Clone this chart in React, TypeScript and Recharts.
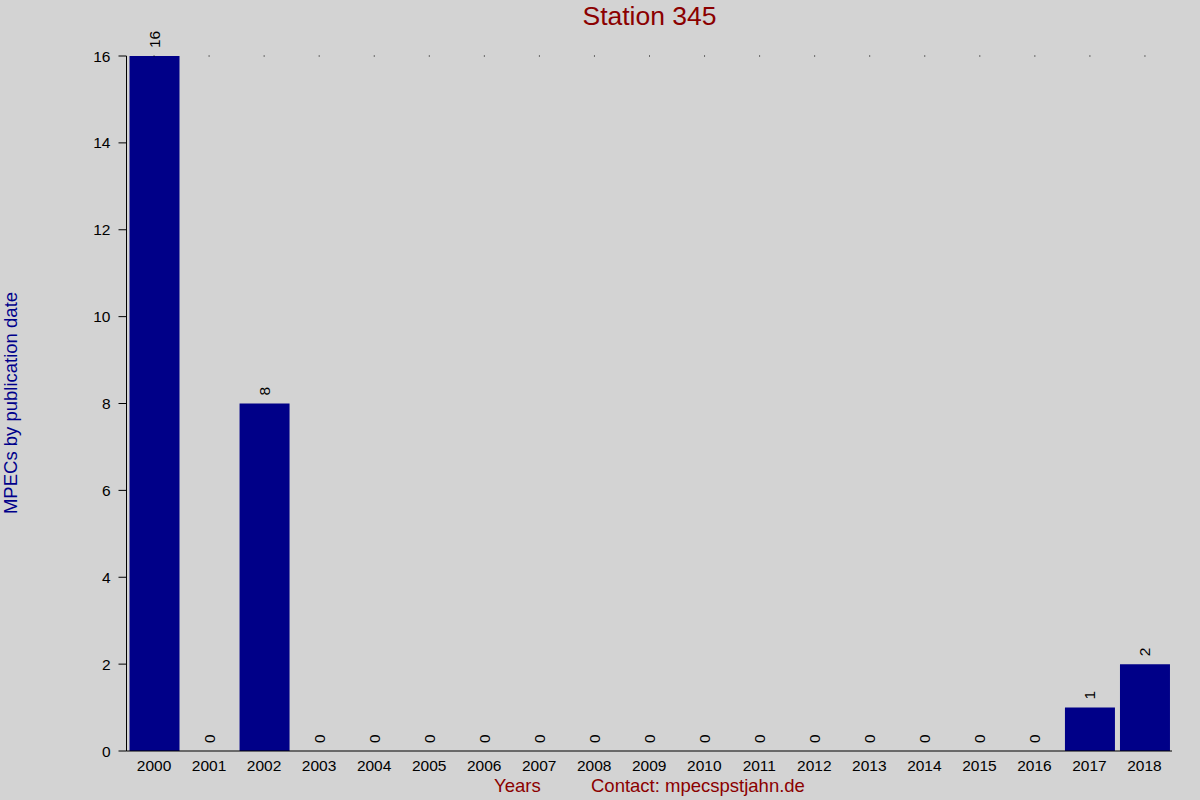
import { ComposedChart, Bar, Line, XAxis, YAxis, LabelList, ReferenceLine } from "recharts";

const years = [
  "2000", "2001", "2002", "2003", "2004", "2005", "2006", "2007", "2008", "2009",
  "2010", "2011", "2012", "2013", "2014", "2015", "2016", "2017", "2018",
];
const mpecs = [16, 0, 8, 0, 0, 0, 0, 0, 0, 0, 0, 0, 0, 0, 0, 0, 0, 1, 2];
const yTicks = [0, 2, 4, 6, 8, 10, 12, 14, 16];

const data = years.map((y, i) => ({ year: y, count: mpecs[i] }));

const font = "'Liberation Sans', Arial, sans-serif";

// value labels drawn rotated, sitting just above each bar top
const RotatedLabel = (props: any) => {
  const { x, y, value } = props;
  const cx = x + 6;
  const cy = y - 8;
  return (
    <text
      x={cx}
      y={cy}
      transform={`rotate(-90 ${cx} ${cy})`}
      textAnchor="start"
      fontSize={15.5}
      fontFamily={font}
      fill="#000"
    >
      {value}
    </text>
  );
};

export default function App() {
  return (
    <div
      style={{
        position: "absolute",
        left: 0,
        top: 0,
        width: 1200,
        height: 800,
        background: "#d3d3d3",
        fontFamily: font,
      }}
    >
      <div
        style={{
          position: "absolute",
          top: 1,
          left: 0,
          width: 1299,
          textAlign: "center",
          fontSize: 26.5,
          color: "#8b0000",
        }}
      >
        Station 345
      </div>
      <div
        style={{
          position: "absolute",
          left: 11,
          top: 403,
          transform: "translate(-50%, -50%) rotate(-90deg)",
          whiteSpace: "nowrap",
          fontSize: 18.5,
          color: "#00008b",
        }}
      >
        MPECs by publication date
      </div>
      <div
        style={{
          position: "absolute",
          left: 494,
          top: 775,
          fontSize: 18.5,
          color: "#8b0000",
          whiteSpace: "nowrap",
        }}
      >
        Years
      </div>
      <div
        style={{
          position: "absolute",
          left: 591,
          top: 775,
          fontSize: 18.5,
          color: "#8b0000",
          whiteSpace: "nowrap",
        }}
      >
        Contact: mpecspstjahn.de
      </div>
      <ComposedChart
        width={1200}
        height={800}
        data={data}
        margin={{ top: 56, right: 28, left: 66.5, bottom: 19 }}
        style={{ position: "absolute", left: 0, top: 0 }}
      >
        <ReferenceLine
          y={16}
          stroke="#000"
          strokeDasharray="1 54.05"
          strokeDashoffset={28}
        />
        <XAxis
          dataKey="year"
          tickLine={false}
          axisLine={{ stroke: "#000" }}
          height={30}
          tick={{ fill: "#000", fontSize: 15.5, fontFamily: font }}
          interval={0}
          tickMargin={3}
        />
        <YAxis
          width={60}
          domain={[0, 16]}
          ticks={yTicks}
          interval={0}
          axisLine={{ stroke: "#000" }}
          tickLine={{ stroke: "#000" }}
          tickSize={8}
          tickMargin={8}
          tick={{ fill: "#000", fontSize: 15.5, fontFamily: font }}
        />
        <Bar dataKey="count" fill="#000088" barSize={50} isAnimationActive={false} />
        <Line
          dataKey="count"
          stroke="none"
          dot={false}
          activeDot={false}
          isAnimationActive={false}
        >
          <LabelList dataKey="count" content={<RotatedLabel />} />
        </Line>
      </ComposedChart>
    </div>
  );
}
